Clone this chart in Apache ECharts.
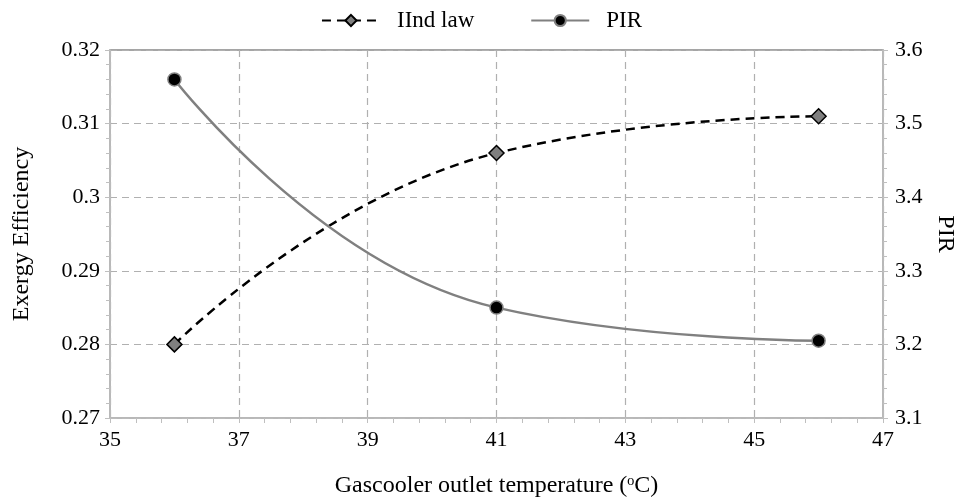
<!DOCTYPE html>
<html>
<head>
<meta charset="utf-8">
<script src="https://cdn.jsdelivr.net/npm/echarts@6/dist/echarts.min.js"></script>
<style>
  html, body { margin: 0; padding: 0; background: #fff; }
  #main { width: 963px; height: 502px; }
</style>
</head>
<body>
<div id="main"></div>
<script>
  // 数据
  var temps = [36, 41, 46];
  var secondLaw = [0.280, 0.306, 0.311];
  var pir = [3.56, 3.25, 3.205];

  var font = '"Liberation Serif", "Times New Roman", serif';
  var axisGray = '#bfbfbf';
  var gridGray = '#b0b0b0';

  var myChart = echarts.init(document.getElementById("main"));

  var option = {
    backgroundColor: '#fff',
    animation: false,
    textStyle: { fontFamily: font, color: '#000' },
    legend: {
      top: 4,
      left: 'center',
      itemWidth: 58,
      itemHeight: 14,
      itemGap: 56,
      textStyle: { fontFamily: font, fontSize: 23, color: '#000', padding: [0, 0, 0, 12] },
      data: ['IInd law', 'PIR']
    },
    grid: {
      left: 110, right: 80, top: 50, bottom: 84,
      outerBoundsMode: 'none', containLabel: false,
      show: true, borderColor: '#888', borderWidth: 1.5
    },
    xAxis: {
      type: 'value',
      min: 35, max: 47, interval: 2,
      name: 'Gascooler outlet temperature (\u1d52C)',
      nameLocation: 'middle',
      nameGap: 56,
      nameTextStyle: { fontFamily: font, fontSize: 24, color: '#000' },
      axisLine: { show: true, lineStyle: { color: axisGray, width: 1.5 } },
      axisTick: { show: true, inside: false, length: 5, lineStyle: { color: axisGray } },
      minorTick: { show: true, splitNumber: 5, length: 5, lineStyle: { color: axisGray } },
      axisLabel: { fontFamily: font, fontSize: 22, color: '#000', margin: 11 },
      splitLine: { show: true, lineStyle: { color: gridGray, type: [7, 5], width: 1.2 } }
    },
    yAxis: [
      {
        type: 'value',
        min: 0.27, max: 0.32, interval: 0.01,
        name: 'Exergy Efficiency',
        nameLocation: 'middle',
        nameGap: 76,
        nameTextStyle: { fontFamily: font, fontSize: 24, color: '#000' },
        axisLine: { show: true, lineStyle: { color: axisGray, width: 1.5 } },
        axisTick: { show: true, length: 5, lineStyle: { color: axisGray } },
        minorTick: { show: true, splitNumber: 5, length: 4, lineStyle: { color: axisGray } },
        axisLabel: { fontFamily: font, fontSize: 22, color: '#000', margin: 10,
          formatter: function (v) { return String(+v.toFixed(2)); } },
        splitLine: { show: true, lineStyle: { color: gridGray, type: [7, 5], width: 1.2 } }
      },
      {
        type: 'value',
        min: 3.1, max: 3.6, interval: 0.1,
        name: 'PIR',
        nameLocation: 'middle',
        nameGap: 45,
        nameRotate: -90,
        nameTextStyle: { fontFamily: font, fontSize: 24, color: '#000' },
        axisLine: { show: true, lineStyle: { color: axisGray, width: 1.5 } },
        axisTick: { show: true, length: 5, lineStyle: { color: axisGray } },
        minorTick: { show: true, splitNumber: 5, length: 4, lineStyle: { color: axisGray } },
        axisLabel: { fontFamily: font, fontSize: 22, color: '#000', margin: 12,
          formatter: function (v) { return String(+v.toFixed(1)); } },
        splitLine: { show: false }
      }
    ],
    series: [
      {
        name: 'IInd law',
        type: 'line',
        yAxisIndex: 0,
        smooth: 0.5,
        data: temps.map(function (t, i) { return [t, secondLaw[i]]; }),
        symbol: 'diamond',
        symbolSize: 15,
        lineStyle: { color: '#000', width: 2.5, type: [9, 6] },
        itemStyle: { color: '#7f7f7f', borderColor: '#000', borderWidth: 1.5 }
      },
      {
        name: 'PIR',
        type: 'line',
        yAxisIndex: 1,
        smooth: 0.5,
        data: temps.map(function (t, i) { return [t, pir[i]]; }),
        symbol: 'circle',
        symbolSize: 13,
        lineStyle: { color: '#808080', width: 2.5 },
        itemStyle: { color: '#000', borderColor: '#808080', borderWidth: 1.5 }
      }
    ]
  };

  myChart.setOption(option);
</script>
</body>
</html>
